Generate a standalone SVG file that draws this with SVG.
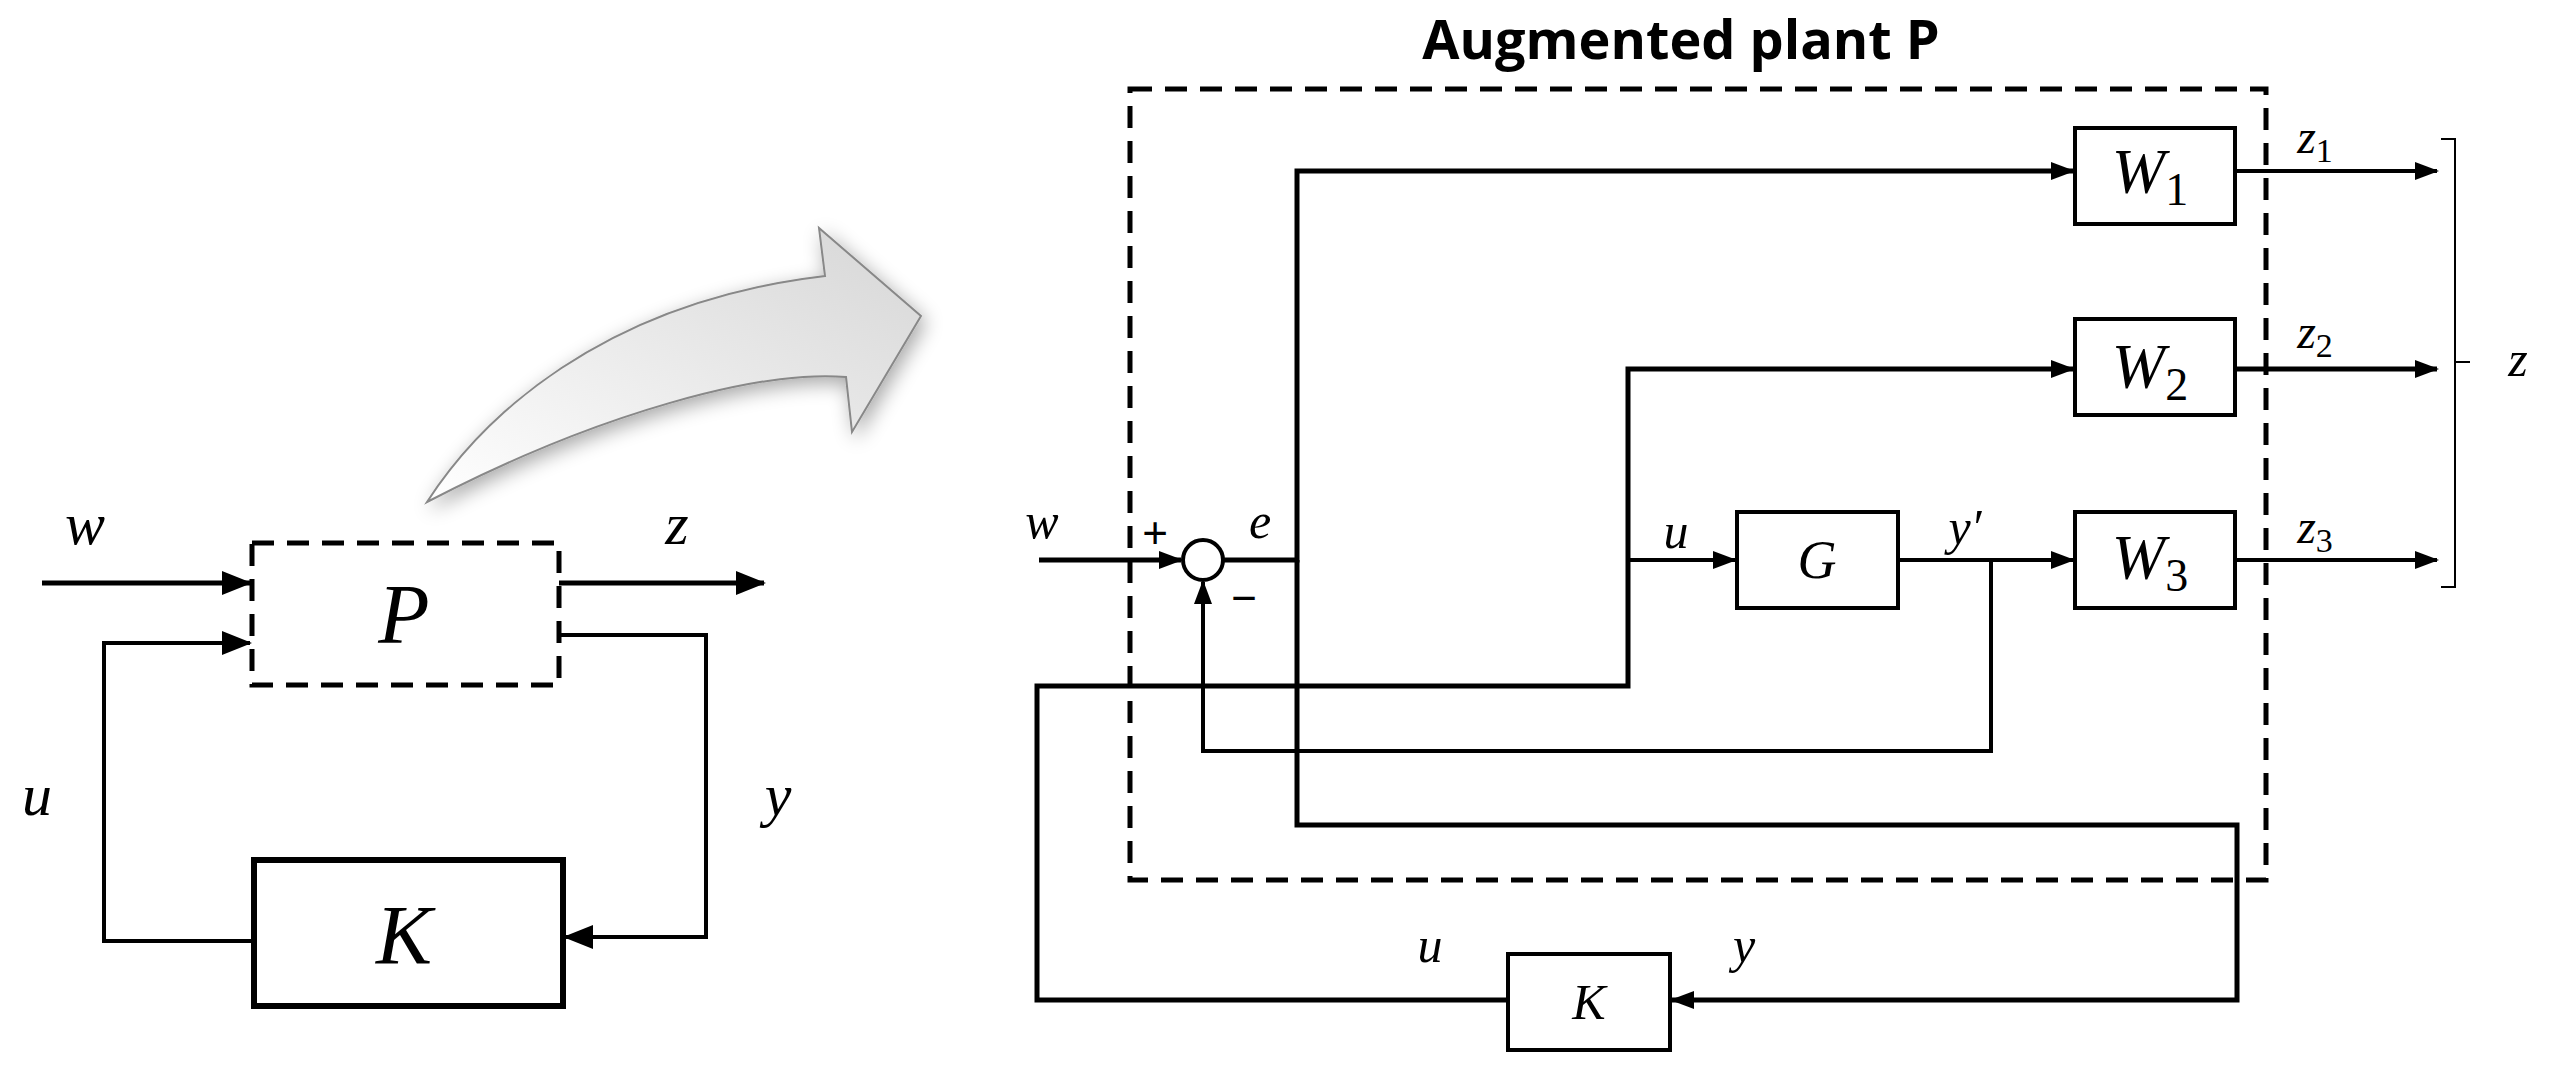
<svg xmlns="http://www.w3.org/2000/svg" width="2549" height="1071" viewBox="0 0 2549 1071">
<defs>
<marker id="ah" markerUnits="userSpaceOnUse" markerWidth="30" markerHeight="24" refX="28" refY="12" orient="auto"><path d="M0,0 L30,12 L0,24 Z" fill="#000"/></marker>
<marker id="as" markerUnits="userSpaceOnUse" markerWidth="24" markerHeight="18" refX="22" refY="9" orient="auto"><path d="M0,0 L24,9 L0,18 Z" fill="#000"/></marker>
<linearGradient id="g" x1="0" y1="1" x2="1" y2="0"><stop offset="0" stop-color="#ffffff"/><stop offset="1" stop-color="#d6d6d6"/></linearGradient>
<filter id="sh" x="-20%" y="-20%" width="140%" height="140%"><feGaussianBlur in="SourceAlpha" stdDeviation="10"/><feOffset dx="4" dy="6"/><feComponentTransfer><feFuncA type="linear" slope="0.35"/></feComponentTransfer><feMerge><feMergeNode/><feMergeNode in="SourceGraphic"/></feMerge></filter>
</defs>
<style>
.m{font-family:"Liberation Serif",serif;font-style:italic;fill:#000}
.l{fill:none;stroke:#000;stroke-width:5}
.t{fill:none;stroke:#000;stroke-width:4}
.b{fill:#fff;stroke:#000;stroke-width:4}
.d{fill:none;stroke:#000;stroke-width:5;stroke-dasharray:22,13}
</style>
<rect width="2549" height="1071" fill="#fff"/>
<path id="bigarrow" d="M427,502 C480,420 600,302 825,276 L819,228 L921,316 L852,432 L846,377 C760,370 600,412 427,502 Z" fill="url(#g)" stroke="#888" stroke-width="2" filter="url(#sh)"/>
<g id="left-P"><rect x="252" y="543" width="307" height="142" class="d" fill="none"/><text x="404" y="643" class="m" font-size="84" text-anchor="middle">P</text></g>
<g id="left-K"><rect x="254" y="860" width="309" height="146" fill="#fff" stroke="#000" stroke-width="6"/><text x="404" y="964" class="m" font-size="84" text-anchor="middle">K</text></g>
<g id="left-connectors">
<line x1="42" y1="583" x2="250" y2="583" class="l" stroke-width="6" marker-end="url(#ah)"/>
<line x1="559" y1="583" x2="764" y2="583" class="l" stroke-width="6" marker-end="url(#ah)"/>
<polyline points="254,941 104,941 104,643 250,643" class="t" marker-end="url(#ah)"/>
<polyline points="559,635 706,635 706,937 565,937" class="t" marker-end="url(#ah)"/>
</g>
<g id="left-labels">
<text x="85" y="544" class="m" font-size="60" text-anchor="middle">w</text>
<text x="677" y="544" class="m" font-size="60" text-anchor="middle">z</text>
<text x="37" y="815" class="m" font-size="60" text-anchor="middle">u</text>
<text x="778" y="815" class="m" font-size="60" text-anchor="middle">y</text>
</g>
<text x="1681" y="59" font-family="'Open Sans','Liberation Sans',sans-serif" font-weight="bold" font-size="54" text-anchor="middle">Augmented plant P</text>
<rect id="plant-box" x="1130" y="89" width="1136" height="791" class="d"/>
<g id="connectors">
<line x1="1039" y1="560" x2="1181" y2="560" class="l" marker-end="url(#as)"/>
<polyline points="1223,560 1297,560 1297,171 2073,171" class="l" marker-end="url(#as)"/>
<polyline points="1297,560 1297,825 2237,825 2237,1000 1672,1000" class="l" marker-end="url(#as)"/>
<polyline points="1508,1000 1037,1000 1037,686 1628,686 1628,369 2073,369" class="l" marker-end="url(#as)"/>
<line x1="1628" y1="560" x2="1735" y2="560" class="t" marker-end="url(#as)"/>
<line x1="1898" y1="560" x2="2073" y2="560" class="t" marker-end="url(#as)"/>
<polyline points="1991,560 1991,751 1203,751 1203,582" class="t" marker-end="url(#as)"/>
<line x1="2235" y1="171" x2="2437" y2="171" class="t" marker-end="url(#as)"/>
<line x1="2235" y1="369" x2="2437" y2="369" class="l" marker-end="url(#as)"/>
<line x1="2235" y1="560" x2="2437" y2="560" class="t" marker-end="url(#as)"/>
<path d="M2441,139 H2455 V587 H2441 M2455,362 H2470" fill="none" stroke="#000" stroke-width="2"/>
</g>
<g id="sum"><circle cx="1203" cy="560" r="20" class="b"/><text x="1155" y="548" font-family="'Liberation Sans',sans-serif" font-size="44" text-anchor="middle">+</text><text x="1244" y="613" font-family="'Liberation Sans',sans-serif" font-size="44" text-anchor="middle">−</text></g>
<g id="W1"><rect x="2075" y="128" width="160" height="96" class="b"/><text x="2150" y="193" class="m" font-size="64" text-anchor="middle">W<tspan font-style="normal" font-size="46" dy="12">1</tspan></text></g>
<g id="W2"><rect x="2075" y="319" width="160" height="96" class="b"/><text x="2150" y="388" class="m" font-size="64" text-anchor="middle">W<tspan font-style="normal" font-size="46" dy="12">2</tspan></text></g>
<g id="W3"><rect x="2075" y="512" width="160" height="96" class="b"/><text x="2150" y="579" class="m" font-size="64" text-anchor="middle">W<tspan font-style="normal" font-size="46" dy="12">3</tspan></text></g>
<g id="G"><rect x="1737" y="512" width="161" height="96" class="b"/><text x="1817" y="578" class="m" font-size="54" text-anchor="middle">G</text></g>
<g id="K"><rect x="1508" y="954" width="162" height="96" class="b"/><text x="1589" y="1019" class="m" font-size="50" text-anchor="middle">K</text></g>
<g id="labels">
<text x="1042" y="538" class="m" font-size="50" text-anchor="middle">w</text>
<text x="1260" y="538" class="m" font-size="50" text-anchor="middle">e</text>
<text x="1676" y="548" class="m" font-size="50" text-anchor="middle">u</text>
<text x="1965" y="544" class="m" font-size="50" text-anchor="middle">y′</text>
<text x="1430" y="962" class="m" font-size="50" text-anchor="middle">u</text>
<text x="1744" y="962" class="m" font-size="50" text-anchor="middle">y</text>
<text x="2315" y="153" class="m" font-size="48" text-anchor="middle">z<tspan font-style="normal" font-size="34" dy="9">1</tspan></text>
<text x="2315" y="348" class="m" font-size="48" text-anchor="middle">z<tspan font-style="normal" font-size="34" dy="9">2</tspan></text>
<text x="2315" y="543" class="m" font-size="48" text-anchor="middle">z<tspan font-style="normal" font-size="34" dy="9">3</tspan></text>
<text x="2518" y="376" class="m" font-size="50" text-anchor="middle">z</text>
</g>
</svg>
